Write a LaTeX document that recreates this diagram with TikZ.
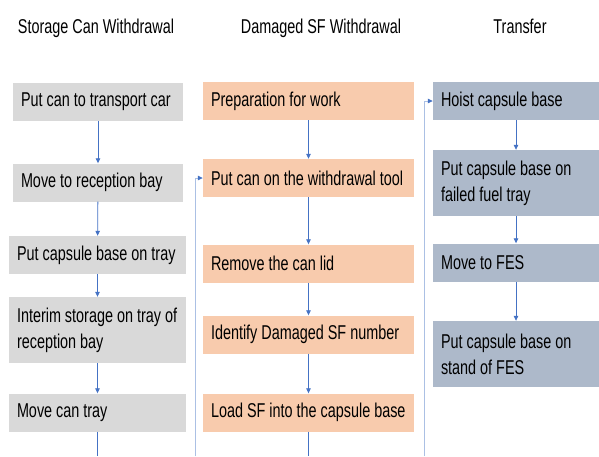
\documentclass[tikz,border=0pt]{standalone}
\usepackage{fontspec}
\setmainfont{Liberation Sans}[FakeStretch=0.72]
\usetikzlibrary{arrows.meta}

\definecolor{canfill}{HTML}{D9D9D9}
\definecolor{sffill}{HTML}{F8CBAD}
\definecolor{trfill}{HTML}{ADB9CA}
\definecolor{flowblue}{HTML}{4472C4}

\newcommand\stepfont{\fontsize{20}{26}\selectfont\spaceskip=4pt plus 2pt minus 1pt\relax}

\begin{document}
\begin{tikzpicture}[
  x=1pt, y=-1pt,
  every node/.style={font=\stepfont},
  box/.style={minimum height=38pt, inner xsep=8pt, inner ysep=0pt, align=flush left},
  tall/.style={minimum height=66pt},
  cantop/.style={box, fill=canfill, text width=154pt},
  canbox/.style={box, fill=canfill, text width=161pt},
  sfbox/.style={box, fill=sffill, text width=195pt},
  trbox/.style={box, fill=trfill, text width=150pt},
  head/.style={anchor=base},
  flow/.style={-{Triangle[length=5pt, width=4.5pt]}, draw=flowblue, line width=0.8pt},
  flowline/.style={draw=flowblue, line width=0.8pt},
  link/.style={-{Triangle[length=5pt, width=4.5pt, color=flowblue]},
               draw=flowblue!45, line width=0.8pt},
]
  \useasboundingbox (0,0) rectangle (599,456);

  %% ── Column headers ──
  \node[head] (h1) at (96, 33)  {Storage Can Withdrawal};
  \node[head] (h2) at (321, 33) {Damaged SF Withdrawal};
  \node[head] (h3) at (520, 33) {Transfer};

  %% ══════════════════════════════════════════════════════
  %% Column 1: storage can withdrawal
  \node[cantop] (can1) at (98, 102)         {Put can to transport car};
  \node[cantop] (can2) at (98, 182.5)       {Move to reception bay};
  \node[canbox] (can3) at (97.5, 255)       {Put capsule base on tray};
  \node[canbox, tall] (can4) at (97.5, 330) {Interim storage on tray of\\reception bay};
  \node[canbox] (can5) at (97.5, 412.5)     {Move can tray};

  %% Column 2: damaged SF withdrawal
  \node[sfbox] (sf1) at (308.5, 101)   {Preparation for work};
  \node[sfbox] (sf2) at (308.5, 178)   {Put can on the withdrawal tool};
  \node[sfbox] (sf3) at (308.5, 263.5) {Remove the can lid};
  \node[sfbox] (sf4) at (308.5, 334.5) {Identify Damaged SF number};
  \node[sfbox] (sf5) at (308.5, 412.5) {Load SF into the capsule base};

  %% Column 3: transfer
  \node[trbox] (tr1) at (516, 101)         {Hoist capsule base};
  \node[trbox, tall] (tr2) at (516, 183)   {Put capsule base on\\failed fuel tray};
  \node[trbox] (tr3) at (516, 262.5)       {Move to FES};
  \node[trbox, tall] (tr4) at (516, 354)   {Put capsule base on\\stand of FES};

  %% free ends at the bottom edge
  \coordinate (can_out) at (97.5, 456);
  \coordinate (sf_out)  at (308.5, 456);
  \coordinate (gap1)    at (195, 456);
  \coordinate (gap2)    at (424, 456);

  %% ══════════════════════════════════════════════════════
  %% ═══ FLOW ARROWS ═══
  \draw[flow] (can1) -- (can2);
  \draw[flow] (can2) -- (can3);
  \draw[flow] (can3) -- (can4);
  \draw[flow] (can4) -- (can5);
  \draw[flowline] (can5) -- (can_out);

  \draw[flow] (sf1) -- (sf2);
  \draw[flow] (sf2) -- (sf3);
  \draw[flow] (sf3) -- (sf4);
  \draw[flow] (sf4) -- (sf5);
  \draw[flowline] (sf5) -- (sf_out);

  \draw[flow] (tr1) -- (tr2);
  \draw[flow] (tr2) -- (tr3);
  \draw[flow] (tr3) -- (tr4);

  %% continuation links up the gutters
  \draw[link] (gap1) |- (sf2.west);
  \draw[link] (gap2) |- (tr1.west);
\end{tikzpicture}
\end{document}
